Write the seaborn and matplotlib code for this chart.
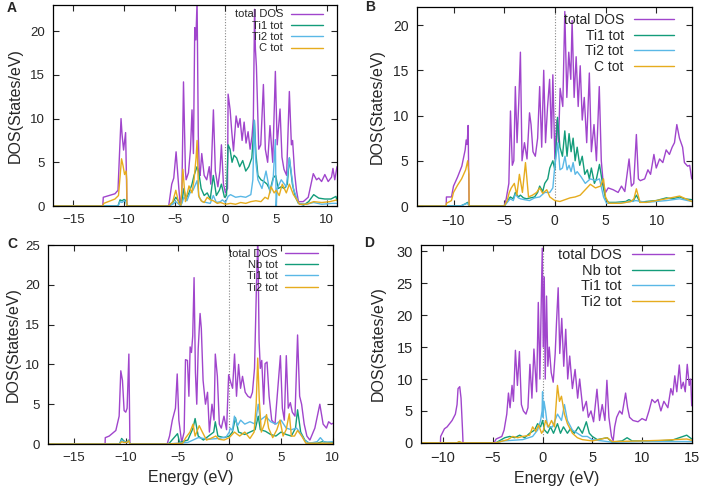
import matplotlib
matplotlib.use('Agg')
import matplotlib.pyplot as plt
import seaborn as sns
import pandas as pd

# ---------------- panel A (Ti2C-like): total, Ti1, Ti2, C ----------------
a_tot_e = [-17, -12.1, -12.05, -10.9, -10.6, -10.45, -10.3, -10.2, -10.05, -9.85,
           -9.76, -9.72, -5.6, -5.3, -5.1, -4.87, -4.6, -4.45, -4.3, -4.14,
           -3.95, -3.88, -3.65, -3.45, -3.3, -3.16, -3.03, -2.92, -2.8, -2.68,
           -2.58, -2.5, -2.34, -2.1, -1.85, -1.6, -1.45, -1.19, -1.0, -0.75,
           -0.55, -0.4, -0.2, 0.0, 0.2, 0.26, 0.46, 0.62, 0.79, 1.05,
           1.25, 1.44, 1.64, 1.84, 2.03, 2.23, 2.43, 2.62, 2.75, 2.87,
           2.95, 3.05, 3.15, 3.28, 3.48, 3.74, 3.93, 4.16, 4.39, 4.66,
           4.92, 5.1, 5.38, 5.57, 5.77, 6.03, 6.3, 6.5, 6.62, 6.82,
           7.0, 7.2, 7.67, 8.16, 8.66, 8.98, 9.2, 9.48, 9.8, 10.13,
           10.46, 10.6, 10.78, 11.0]
a_tot = [0, 0, 1.0, 1.4, 1.8, 6.0, 10.0, 8.2, 6.4, 8.4,
         3.0, 0, 0, 2.5, 3.2, 6.2, 2.0, 0, 1.5, 14.2,
         4.0, 3.0, 3.8, 6.5, 11.0, 6.0, 20.4, 19.0, 23.5, 8.0,
         4.0, 3.5, 6.0, 3.5, 3.0, 4.5, 2.5, 11.0, 4.0, 2.2,
         4.0, 7.0, 2.5, 1.5, 2.0, 12.8, 11.0, 8.5, 6.3, 10.3,
         9.0, 10.0, 7.5, 9.6, 7.2, 8.5, 6.5, 8.0, 10.0, 22.5,
         18.0, 16.0, 12.0, 6.5, 7.0, 13.9, 6.5, 5.0, 9.2, 5.0,
         15.4, 7.0, 11.1, 5.6, 4.2, 3.5, 13.1, 7.0, 7.5, 3.8,
         1.8, 0.5, 0.5, 1.0, 3.7, 3.0, 3.2, 2.8, 3.6, 2.8,
         3.3, 4.3, 3.0, 4.5]

a_ti1_e = [-17, -10.6, -10.4, -10.2, -10.0, -9.8, -9.72, -5.6, -5.2, -4.9,
           -4.6, -4.45, -4.3, -4.1, -3.9, -3.6, -3.3, -3.1, -2.8, -2.65,
           -2.4, -2.1, -1.8, -1.5, -1.2, -0.9, -0.6, -0.4, -0.1, 0.1,
           0.26, 0.45, 0.65, 0.85, 1.1, 1.4, 1.7, 2.0, 2.3, 2.6,
           2.85, 3.0, 3.2, 3.5, 3.8, 4.1, 4.4, 4.7, 4.95, 5.2,
           5.5, 5.8, 6.1, 6.3, 6.6, 6.9, 7.2, 7.7, 8.2, 8.7,
           9.2, 9.8, 10.4, 10.9, 11.0]
a_ti1 = [0, 0, 0.7, 0.6, 0.75, 0.6, 0, 0, 0.4, 1.0,
         0.5, 0, 0.5, 2.0, 0.8, 1.5, 2.5, 3.5, 4.5, 4.0,
         2.0, 1.2, 1.5, 0.8, 3.5, 1.2, 1.8, 2.5, 1.0, 1.2,
         7.0, 6.5, 5.0, 5.8, 5.5, 4.5, 5.2, 4.0, 4.5, 5.5,
         9.8, 6.0, 3.5, 3.0, 2.8, 2.5, 1.8, 3.2, 3.5, 2.0,
         2.2, 2.0, 2.5, 5.5, 2.5, 1.0, 0.3, 0.1, 0.5, 1.3,
         0.9, 0.8, 0.8, 1.1, 0.6]

a_ti2_e = [-17, -10.6, -10.4, -10.2, -10.0, -9.8, -9.72, -5.6, -5.2, -4.9,
           -4.6, -4.45, -4.3, -4.1, -3.8, -3.5, -3.2, -2.8, -2.6, -2.3,
           -1.9, -1.5, -1.2, -0.9, -0.5, -0.3, 0.0, 0.26, 0.5, 1.0,
           1.5, 2.0, 2.5, 2.7, 2.85, 3.0, 3.2, 3.6, 4.0, 4.4,
           4.7, 4.92, 5.0, 5.1, 5.5, 6.0, 6.3, 6.7, 7.2, 8.0,
           8.7, 9.5, 10.5, 11.0]
a_ti2 = [0, 0, 0.5, 0.4, 0.6, 0.5, 0, 0, 0.2, 0.5,
         0.2, 0, 0.3, 1.0, 0.6, 1.5, 1.8, 2.9, 1.0, 0.5,
         0.4, 0.3, 1.2, 0.4, 0.5, 0.7, 0.4, 1.1, 1.3, 1.0,
         1.1, 1.0, 1.3, 3.0, 9.8, 5.0, 3.0, 2.0, 4.0, 1.5,
         3.0, 7.6, 0.0, 2.0, 3.0, 2.2, 5.5, 2.0, 0.3, 0.2,
         0.4, 0.2, 0.3, 0.3]

a_c_e = [-17, -12.1, -12.0, -10.9, -10.55, -10.25, -10.1, -9.95, -9.8, -9.74,
         -9.72, -5.6, -5.2, -4.9, -4.6, -4.4, -4.2, -3.95, -3.6, -3.3,
         -3.1, -2.9, -2.8, -2.65, -2.4, -2.1, -1.8, -1.5, -1.2, -0.8,
         -0.5, 0.0, 0.5, 1.0, 1.5, 2.0, 2.5, 3.0, 3.5, 3.9,
         4.2, 4.5, 4.8, 5.0, 5.3, 5.6, 6.0, 6.3, 6.7, 7.0,
         7.3, 8.0, 8.7, 9.5, 10.3, 11.0]
a_c = [0, 0, 0.3, 0.8, 1.2, 5.4, 4.6, 3.6, 4.0, 3.0,
       0, 0, 0.5, 1.8, 0.3, 0.1, 4.2, 0.5, 2.3, 1.5,
       3.0, 5.5, 7.5, 1.2, 0.6, 0.4, 1.0, 0.7, 0.6, 0.3,
       0.4, 0.2, 0.3, 0.2, 0.4, 0.3, 0.5, 0.6, 0.5, 1.0,
       0.8, 2.2, 1.5, 1.8, 1.2, 2.5, 1.5, 2.5, 1.3, 0.8,
       0.2, 0.2, 0.5, 0.4, 0.5, 0.7]

# ---------------- panel B ----------------
b_tot_e = [-14, -10.72, -10.7, -10.2, -10.0, -9.6, -9.18, -8.85, -8.75, -8.65,
           -8.56, -8.46, -5.0, -4.8, -4.54, -4.38, -4.2, -4.05, -3.9, -3.73,
           -3.56, -3.4, -3.24, -3.0, -2.75, -2.5, -2.35, -2.16, -1.93, -1.7,
           -1.5, -1.3, -1.1, -0.92, -0.72, -0.52, -0.33, -0.2, 0.0, 0.2,
           0.36, 0.52, 0.78, 0.98, 1.18, 1.37, 1.57, 1.7, 1.9, 2.1,
           2.3, 2.5, 2.7, 2.9, 3.14, 3.4, 3.6, 3.86, 4.1, 4.38,
           4.58, 4.77, 5.0, 5.26, 5.75, 6.24, 6.57, 6.9, 7.32, 7.55,
           7.78, 8.04, 8.24, 8.43, 8.86, 9.18, 9.44, 9.77, 10.0, 10.33,
           10.65, 10.98, 11.3, 11.57, 11.8, 12.03, 12.29, 12.6, 12.78, 13.1,
           13.3, 13.5]
b_tot = [0, 0, 1.0, 1.0, 2.2, 3.2, 4.4, 6.2, 7.3, 6.8,
         8.9, 0, 0, 0.8, 2.5, 10.5, 4.5, 5.0, 13.2, 7.0,
         11.5, 17.0, 5.0, 7.0, 5.2, 10.3, 9.0, 6.0, 5.5, 7.5,
         13.2, 6.5, 15.0, 7.0, 11.0, 14.0, 7.5, 14.5, 5.2, 9.5,
         7.0, 13.0, 11.0, 21.5, 12.0, 17.0, 14.0, 20.5, 12.0, 16.5,
         11.0, 15.5, 9.5, 12.0, 7.0, 14.7, 6.0, 9.0, 5.0, 13.2,
         5.0, 2.5, 1.5, 2.0, 1.8, 1.5, 2.2, 1.6, 5.2, 2.2,
         2.5, 7.9, 3.0, 2.8, 3.0, 4.0, 3.5, 5.7, 4.2, 5.2,
         4.8, 6.2, 5.7, 6.5, 7.0, 9.0, 7.5, 6.5, 4.8, 4.4,
         4.5, 3.0]

b_ti1_e = [-14, -9.3, -8.9, -8.6, -8.46, -5.0, -4.7, -4.4, -4.1, -3.9,
           -3.6, -3.4, -3.1, -2.8, -2.4, -2.0, -1.7, -1.5, -1.2, -1.0,
           -0.7, -0.5, -0.2, 0.0, 0.26, 0.5, 0.75, 0.98, 1.2, 1.4,
           1.6, 1.8, 2.0, 2.2, 2.45, 2.7, 2.95, 3.2, 3.4, 3.6,
           3.9, 4.1, 4.4, 4.7, 5.0, 5.3, 6.0, 7.0, 7.3, 7.7,
           8.04, 8.4, 9.0, 10.0, 11.0, 11.6, 12.3, 12.8, 13.5]
b_ti1 = [0, 0, 0.2, 0.4, 0, 0, 0.5, 1.0, 0.8, 1.5,
         1.0, 1.2, 0.9, 0.8, 0.9, 1.0, 1.5, 2.2, 1.6, 2.5,
         3.0, 4.2, 5.0, 4.0, 9.8, 6.5, 5.5, 8.3, 5.5, 8.0,
         6.0, 7.5, 5.0, 6.5, 4.5, 5.5, 3.5, 4.0, 3.0, 4.2,
         2.5, 3.0, 4.6, 2.5, 0.8, 0.4, 0.4, 0.5, 0.7, 0.5,
         1.2, 0.4, 0.5, 0.6, 0.9, 0.8, 1.0, 0.8, 0.7]

b_ti2_e = [-14, -9.3, -8.9, -8.6, -8.46, -5.0, -4.7, -4.4, -4.1, -3.9,
           -3.6, -3.4, -3.0, -2.5, -2.0, -1.5, -1.0, -0.5, -0.2, 0.0,
           0.3, 0.5, 0.75, 1.0, 1.2, 1.4, 1.6, 1.8, 2.0, 2.2,
           2.6, 3.0, 3.5, 4.0, 4.4, 4.8, 5.1, 6.0, 7.0, 8.0,
           9.0, 10.0, 11.0, 12.3, 13.5]
b_ti2 = [0, 0, 0.2, 0.3, 0, 0, 0.4, 0.8, 0.6, 1.3,
         0.9, 0.8, 0.7, 0.6, 0.9, 1.0, 1.5, 1.5, 2.0, 4.5,
         7.0, 4.0, 4.2, 5.5, 4.0, 4.5, 3.8, 4.8, 3.5, 3.8,
         3.2, 2.5, 3.0, 2.8, 3.0, 1.0, 0.3, 0.3, 0.4, 0.6,
         0.4, 0.5, 0.6, 0.8, 0.5]

b_c_e = [-14, -10.72, -10.7, -10.2, -10.0, -9.6, -9.2, -8.8, -8.6, -8.48,
         -8.46, -5.0, -4.7, -4.5, -4.3, -4.0, -3.75, -3.5, -3.2, -2.9,
         -2.6, -2.2, -1.8, -1.5, -1.2, -0.8, -0.5, 0.0, 0.5, 1.0,
         1.5, 2.0, 2.5, 3.0, 3.5, 4.0, 4.5, 4.8, 5.0, 5.3,
         6.5, 7.5, 7.8, 8.04, 8.4, 9.0, 10.0, 11.0, 12.3, 13.5]
b_c = [0, 0, 0.3, 0.6, 1.5, 2.3, 3.0, 4.0, 5.0, 3.5,
       0, 0, 0.6, 1.5, 2.0, 2.5, 1.2, 3.5, 1.5, 4.8,
       1.0, 1.2, 1.5, 2.0, 1.4, 1.8, 1.0, 0.6, 0.5, 0.7,
       0.9, 1.0, 1.2, 1.8, 2.4, 2.0, 2.2, 3.0, 1.0, 0.3,
       0.3, 0.5, 0.8, 1.9, 0.4, 0.4, 0.6, 0.8, 1.1, 0.5]

# ---------------- panel C: total, Nb, Ti1, Ti2 ----------------
c_tot_e = [-17.5, -12.0, -11.98, -11.6, -10.96, -10.64, -10.48, -10.32, -10.16, -10.0,
           -9.87, -9.7, -9.6, -6.0, -5.77, -5.5, -5.2, -5.03, -4.87, -4.6,
           -4.36, -4.23, -4.04, -3.9, -3.78, -3.65, -3.53, -3.4, -3.27, -3.14,
           -3.0, -2.82, -2.7, -2.53, -2.3, -2.1, -1.92, -1.67, -1.47, -1.35,
           -1.15, -0.96, -0.77, -0.51, -0.26, -0.06, 0.13, 0.32, 0.51, 0.7,
           0.9, 1.09, 1.28, 1.54, 1.8, 2.05, 2.24, 2.44, 2.63, 2.76,
           2.88, 3.0, 3.14, 3.33, 3.46, 3.65, 3.85, 4.1, 4.42, 4.94,
           5.13, 5.32, 5.51, 5.7, 5.9, 6.09, 6.35, 6.6, 6.8, 6.99,
           7.24, 7.5, 7.79, 8.27, 8.75, 9.07, 9.39, 9.6, 9.87, 10.0]
c_tot = [0, 0, 0.8, 1.0, 1.7, 3.5, 9.2, 8.0, 4.2, 4.0,
         4.5, 11.3, 0, 0, 1.0, 3.0, 4.5, 8.8, 3.0, 0.2,
         1.5, 10.6, 10.5, 6.0, 12.2, 11.5, 13.6, 20.9, 9.0, 5.0,
         12.0, 16.4, 14.5, 8.0, 5.0, 6.5, 1.5, 5.0, 3.0, 11.3,
         8.5, 2.5, 2.0, 3.5, 1.8, 8.7, 7.8, 7.0, 11.3, 6.0,
         10.0, 7.0, 8.5, 6.5, 6.0, 5.8, 6.5, 9.5, 20.0, 26.0,
         13.0, 9.5, 10.5, 5.0, 10.1, 10.3, 6.0, 3.0, 2.5, 11.1,
         4.5, 3.0, 11.1, 4.5, 5.2, 4.0, 3.5, 13.7, 6.0, 5.0,
         2.5, 1.0, 0.5, 2.0, 5.0, 2.5, 2.0, 2.8, 2.5, 2.6]

c_nb_e = [-17.5, -10.6, -10.4, -10.2, -9.9, -9.7, -9.6, -6.0, -5.8, -5.0,
          -4.8, -4.0, -3.5, -3.3, -3.0, -2.5, -2.0, -1.5, -1.35, -1.1,
          -0.5, 0.0, 0.3, 0.6, 0.9, 1.5, 2.0, 2.5, 2.8, 3.0,
          3.5, 4.0, 4.5, 5.0, 5.5, 6.0, 6.4, 6.6, 6.9, 7.3,
          7.7, 8.5, 9.0, 9.5, 10.0]
c_nb = [0, 0, 0.7, 0.4, 0.2, 0.5, 0, 0, 0.1, 1.3,
        0.2, 0.5, 2.0, 3.2, 1.0, 0.5, 1.0, 1.5, 2.8, 1.0,
        0.8, 1.0, 1.5, 3.3, 1.5, 1.2, 1.5, 1.8, 3.5, 1.8,
        1.6, 1.2, 1.0, 1.5, 1.2, 1.0, 2.0, 4.3, 1.5, 0.5,
        0.1, 0.1, 0.3, 0.2, 0.2]

c_ti1_e = [-17.5, -10.6, -10.4, -10.2, -9.9, -9.7, -9.6, -6.0, -5.0, -4.0,
           -3.5, -3.0, -2.0, -1.0, -0.3, 0.0, 0.1, 0.3, 0.5, 0.8,
           1.1, 1.5, 2.0, 2.5, 2.8, 3.0, 3.5, 4.0, 4.5, 5.0,
           5.5, 6.0, 6.5, 6.8, 7.3, 7.8, 8.5, 8.8, 9.2, 10.0]
c_ti1 = [0, 0, 0.5, 0.3, 0.2, 0.4, 0, 0, 0.1, 0.2,
         0.5, 0.8, 0.6, 0.7, 0.9, 1.5, 2.0, 1.7, 3.5, 2.3,
         3.0, 2.5, 2.8, 2.5, 5.0, 3.0, 3.5, 2.8, 2.5, 3.0,
         2.0, 1.8, 2.0, 1.5, 0.4, 0.1, 0.3, 0.8, 0.2, 0.3]

c_ti2_e = [-17.5, -10.6, -10.4, -10.2, -9.9, -9.7, -9.6, -6.0, -4.5, -4.2,
           -3.8, -3.5, -3.3, -2.9, -2.6, -2.2, -1.8, -1.3, -1.0, -0.5,
           0.0, 0.5, 1.0, 1.5, 2.0, 2.4, 2.6, 2.75, 2.9, 3.1,
           3.4, 3.6, 3.8, 4.2, 4.6, 4.9, 5.2, 5.5, 5.8, 6.0,
           6.3, 6.6, 7.0, 7.4, 10.0]
c_ti2 = [0, 0, 0.3, 0.2, 0.2, 0.4, 0, 0, 0.1, 0.8,
         1.5, 2.5, 1.0, 2.3, 1.5, 0.5, 0.7, 1.0, 0.6, 0.5,
         0.8, 1.5, 1.0, 1.5, 0.7, 1.5, 5.0, 10.8, 5.5, 1.5,
         2.5, 3.7, 2.0, 0.8, 1.8, 3.0, 1.0, 1.8, 3.8, 1.0,
         1.0, 1.7, 1.0, 0.1, 0.1]

# ---------------- panel D ----------------
d_tot_e = [-12.2, -10.27, -10.25, -9.87, -9.6, -9.1, -8.77, -8.6, -8.5, -8.33,
           -8.2, -8.05, -8.0, -4.87, -4.67, -4.1, -3.87, -3.6, -3.43, -3.27,
           -3.07, -2.93, -2.73, -2.53, -2.33, -2.13, -1.93, -1.67, -1.47, -1.27,
           -1.07, -0.87, -0.6, -0.43, -0.27, -0.13, -0.03, 0.07, 0.17, 0.27,
           0.4, 0.53, 0.67, 0.87, 1.07, 1.27, 1.4, 1.57, 1.73, 1.93,
           2.13, 2.33, 2.53, 2.73, 3.0, 3.27, 3.53, 3.73, 4.07, 4.4,
           4.6, 4.87, 5.13, 5.47, 5.73, 6.0, 6.27, 6.47, 6.67, 6.93,
           7.1, 7.25, 7.45, 7.75, 8.0, 8.35, 8.55, 8.75, 9.1, 9.6,
           10.0, 10.4, 10.7, 11.0, 11.3, 11.6, 11.9, 12.2, 12.6, 12.9,
           13.1, 13.3, 13.5, 13.75, 13.95, 14.15, 14.35, 14.55, 14.75, 14.9,
           15.0]
d_tot = [0, 0, 1.0, 2.2, 2.5, 3.5, 4.5, 6.0, 8.5, 8.8,
         7.0, 2.0, 0, 0, 0.6, 1.0, 2.0, 4.5, 7.8, 5.5,
         9.0, 6.5, 14.5, 9.0, 14.3, 6.0, 5.0, 4.5, 5.5, 12.3,
         7.0, 14.7, 8.0, 22.0, 10.0, 22.3, 30.5, 15.0, 26.0, 10.0,
         23.0, 12.0, 15.0, 11.0, 9.5, 14.0, 18.8, 24.3, 14.0, 19.5,
         12.0, 17.8, 10.0, 13.6, 8.5, 11.5, 7.0, 10.0, 5.0, 6.5,
         4.0, 5.0, 3.3, 8.4, 3.5, 6.0, 3.5, 9.8, 4.0, 1.0,
         0.3, 2.5, 4.0, 5.0, 4.5, 7.8, 5.5, 4.0, 3.5, 3.3,
         3.8, 3.5, 5.0, 6.8, 6.3, 6.8, 5.0, 6.5, 5.5, 8.5,
         7.5, 10.5, 8.0, 12.2, 8.5, 9.5, 8.0, 12.3, 9.0, 10.0,
         5.8]

d_nb_e = [-12.2, -8.6, -8.4, -8.1, -4.7, -3.8, -3.3, -2.8, -2.3, -1.8,
          -1.3, -0.8, -0.5, -0.2, 0.0, 0.2, 0.5, 0.8, 1.1, 1.5,
          1.8, 2.1, 2.5, 2.8, 3.2, 3.6, 4.0, 4.4, 4.7, 5.0,
          5.5, 6.5, 7.0, 8.0, 8.5, 9.0, 11.0, 13.0, 14.5, 15.0]
d_nb = [0, 0, 0.1, 0, 0, 0.8, 1.0, 0.8, 1.2, 0.8,
        1.5, 2.0, 3.0, 2.5, 3.5, 2.0, 1.5, 2.5, 1.5, 3.0,
        1.5, 2.5, 1.5, 2.2, 1.5, 2.5, 1.5, 3.3, 1.5, 1.0,
        0.5, 0.8, 0.1, 0.3, 0.8, 0.3, 0.3, 0.4, 1.2, 0.6]

d_ti1_e = [-12.2, -4.7, -4.0, -2.0, -1.0, -0.5, -0.2, -0.05, 0.0, 0.05,
           0.15, 0.3, 0.5, 1.0, 1.5, 1.9, 2.2, 2.5, 3.0, 3.5,
           4.0, 4.5, 5.0, 6.0, 7.0, 10.0, 15.0]
d_ti1 = [0, 0, 0.3, 0.5, 1.0, 2.0, 3.5, 5.0, 8.0, 4.0,
         6.5, 5.0, 2.5, 2.5, 4.5, 3.5, 6.0, 3.5, 2.0, 1.5,
         1.0, 1.0, 0.5, 0.3, 0.1, 0.2, 0.2]

d_ti2_e = [-12.2, -8.6, -8.4, -8.1, -4.7, -3.5, -3.0, -2.5, -2.0, -1.3,
           -1.0, -0.7, -0.4, -0.1, 0.1, 0.3, 0.6, 0.9, 1.2, 1.5,
           1.7, 1.9, 2.2, 2.5, 3.0, 3.5, 4.0, 5.0, 6.5, 7.0,
           10.0, 12.0, 14.5, 15.0]
d_ti2 = [0, 0, 0.2, 0, 0, 0.5, 1.0, 0.8, 1.0, 1.2,
         2.5, 1.8, 2.8, 1.5, 2.0, 3.5, 2.5, 3.5, 2.5, 9.0,
         6.5, 7.3, 4.5, 3.0, 1.5, 0.8, 0.5, 0.3, 0.8, 0.2,
         0.3, 0.4, 0.6, 0.4]

labels_ab = ["total DOS", "Ti1 tot", "Ti2 tot", "C tot"]
labels_cd = ["total DOS", "Nb tot", "Ti1 tot", "Ti2 tot"]
colors = ["#a045cc", "#139c7a", "#5ab8e6", "#e6ac1e"]

sns.set_style("ticks")
plt.rcParams['font.family'] = ['Liberation Sans', 'DejaVu Sans']

fig = plt.figure(figsize=(7.08, 4.97), dpi=100)


def panel(rect, series, labels, xlim, ylim, yticks, fs, lsize, anchor, ylab_x, xlabel):
    ax = fig.add_axes(rect)
    frames = []
    for name, (e, d) in zip(labels, series):
        frames.append(pd.DataFrame({"Energy": e, "DOS": d, "Series": name}))
    df = pd.concat(frames, ignore_index=True)
    sns.lineplot(data=df, x="Energy", y="DOS", hue="Series", hue_order=labels,
                 palette=colors, estimator=None, sort=False, lw=1.0,
                 legend=False, ax=ax)
    handles = ax.get_lines()[:4]
    ax.axvline(0, ls=(0, (1, 1.5)), color="#888888", lw=0.8, zorder=0)
    ax.set_xlim(*xlim)
    ax.set_ylim(*ylim)
    ax.set_yticks(yticks)
    ax.tick_params(direction="in", top=True, right=True, length=4, width=0.8,
                   labelsize=fs, pad=6)
    for s in ax.spines.values():
        s.set_linewidth(0.9)
        s.set_color("black")
    ax.set_ylabel("DOS(States/eV)", fontsize=11.5)
    ax.yaxis.set_label_coords(ylab_x, 0.5)
    if xlabel:
        ax.set_xlabel("Energy (eV)", fontsize=11.5, labelpad=4)
    else:
        ax.set_xlabel("")
    ax.legend(handles, labels, loc="upper right", bbox_to_anchor=anchor,
              frameon=False, markerfirst=False, fontsize=lsize,
              handlelength=2.9, handletextpad=0.7, labelspacing=0.12,
              borderpad=0, borderaxespad=0)
    return ax


panel([0.075, 0.5855, 0.401, 0.4045],
      [(a_tot_e, a_tot), (a_ti1_e, a_ti1), (a_ti2_e, a_ti2), (a_c_e, a_c)],
      labels_ab, (-17, 11), (0, 23), [0, 5, 10, 15, 20], 9.5, 8, (0.951, 0.978),
      -0.106, False)
panel([0.589, 0.5855, 0.388, 0.4005],
      [(b_tot_e, b_tot), (b_ti1_e, b_ti1), (b_ti2_e, b_ti2), (b_c_e, b_c)],
      labels_ab, (-13.6, 13.5), (0, 22), [0, 5, 10, 15, 20], 10, 10, (0.935, 0.97),
      -0.116, False)
panel([0.068, 0.1066, 0.402, 0.4004],
      [(c_tot_e, c_tot), (c_nb_e, c_nb), (c_ti1_e, c_ti1), (c_ti2_e, c_ti2)],
      labels_cd, (-17.5, 10), (0, 25), [0, 5, 10, 15, 20, 25], 9.5, 8, (0.947, 0.982),
      -0.098, True)
panel([0.595, 0.109, 0.382, 0.398],
      [(d_tot_e, d_tot), (d_nb_e, d_nb), (d_ti1_e, d_ti1), (d_ti2_e, d_ti2)],
      labels_cd, (-12.2, 15), (0, 31), [0, 5, 10, 15, 20, 25, 30], 10.5, 10.5,
      (0.934, 0.985), -0.133, True)

for letter, x, y in [("A", 12, 8), ("B", 370, 7), ("C", 12, 244), ("D", 369, 243)]:
    fig.text(x / 708, 1 - y / 497, letter, fontsize=10, fontweight="bold",
             ha="center", va="center")

fig.savefig("out.png", dpi=100)
